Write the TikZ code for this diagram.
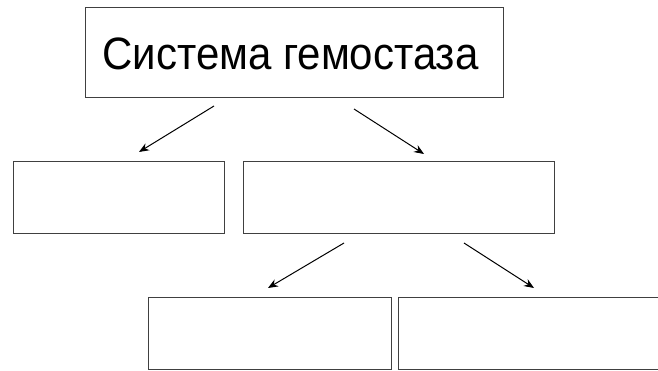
\documentclass[tikz,border=0pt]{standalone}
\usepackage{fontspec}
\setmainfont{Liberation Sans}
\usetikzlibrary{arrows.meta}
\begin{document}
\begin{tikzpicture}[x=1pt,y=-1pt,
  box/.style={draw=black!75,line width=1pt,inner sep=0pt,anchor=north west},
  arr/.style={-{Stealth[length=10pt,width=8pt]},line width=1pt}]
\useasboundingbox (0,0) rectangle (658,371);
\clip (0,0) rectangle (658,371);
\node[box,minimum width=418pt,minimum height=90pt] (top) at (85,7) {};
\node[font=\fontsize{42}{48}\selectfont,yscale=1.08] (label) at ([xshift=-4pt,yshift=-1pt]top.center) {Система гемостаза};
\node[box,minimum width=211pt,minimum height=72pt] (lm) at (13,161) {};
\node[box,minimum width=311pt,minimum height=72pt] (rm) at (243,161) {};
\node[box,minimum width=243pt,minimum height=72pt] (bl) at (148,297) {};
\node[box,minimum width=267pt,minimum height=72pt] (br) at (398,297) {};
\coordinate (a1s) at (214,106); \coordinate (a1e) at (139,152);
\coordinate (a2s) at (354,109); \coordinate (a2e) at (424,154);
\coordinate (a3s) at (344,243); \coordinate (a3e) at (268,288);
\coordinate (a4s) at (464,243); \coordinate (a4e) at (534,288);
\draw[arr] (a1s) -- (a1e);
\draw[arr] (a2s) -- (a2e);
\draw[arr] (a3s) -- (a3e);
\draw[arr] (a4s) -- (a4e);
\end{tikzpicture}
\end{document}
